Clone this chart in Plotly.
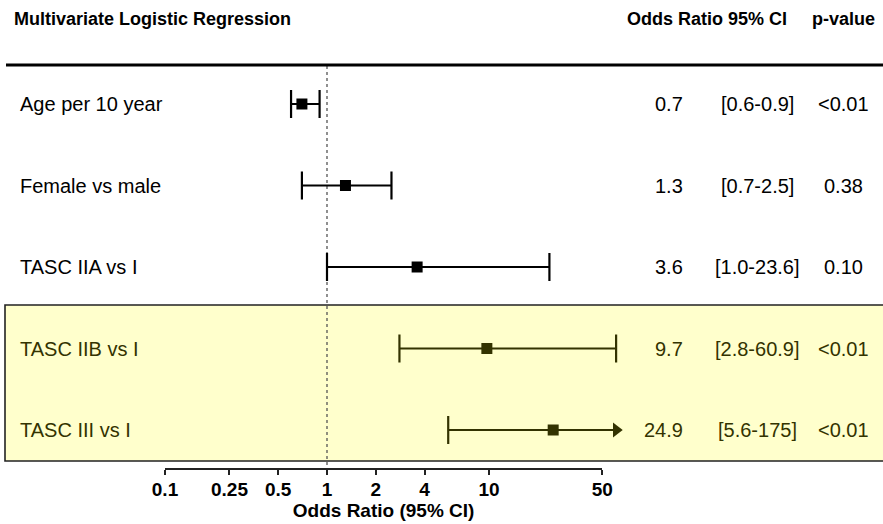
import math
import plotly.graph_objects as go

# ---------------- data ----------------
labels = ["Age per 10 year", "Female vs male", "TASC IIA vs I", "TASC IIB vs I", "TASC III vs I"]
odds_ratio = [0.7, 1.3, 3.6, 9.7, 24.9]
ci_low = [0.6, 0.7, 1.0, 2.8, 5.6]
ci_high = [0.9, 2.5, 23.6, 60.9, 175]
p_values = ["<0.01", "0.38", "0.10", "<0.01", "<0.01"]
highlighted = [False, False, False, True, True]
tick_vals = [0.1, 0.25, 0.5, 1, 2, 4, 10, 50]
tick_text = ["0.1", "0.25", "0.5", "1", "2", "4", "10", "50"]

# ---------------- style / geometry ----------------
W, H = 883, 524
FONT = "Liberation Sans Narrow, Arial Narrow, Liberation Sans, Arial, sans-serif"
BLACK = "#000000"
OLIVE = "#333300"
BOX_FILL = "#FFFFCC"
PX_ONE = 327.0        # pixel of OR = 1
PX_DECADE = 162.0     # pixels per decade
ROW0 = 104.0          # pixel of first row
ROW_STEP = 81.5       # pixels between rows
CLIP = 61.0           # visible maximum for CI whiskers (arrow beyond)
AX_MIN, AX_MAX = 0.1, 50
TXT = 20
HDR = 18


def py(p):  # pixel y -> row coordinate
    return (p - ROW0) / ROW_STEP


def fmt(v):
    return f"{v:.0f}" if v >= 100 else f"{v:.1f}"


fig = go.Figure()

# reference line at OR = 1
fig.add_trace(go.Scatter(x=[1, 1], y=[py(66), py(470)], mode="lines",
                         line=dict(color="#555555", width=1.3, dash="dot"),
                         hoverinfo="skip", showlegend=False))

annotations = []
for i, lab in enumerate(labels):
    c = OLIVE if highlighted[i] else BLACK
    hi = min(ci_high[i], CLIP)
    fig.add_trace(go.Scatter(x=[ci_low[i], hi], y=[i, i], mode="lines",
                             line=dict(color=c, width=2), hoverinfo="skip", showlegend=False))
    caps = [ci_low[i]] + ([ci_high[i]] if ci_high[i] <= CLIP else [])
    fig.add_trace(go.Scatter(x=caps, y=[i] * len(caps), mode="markers",
                             marker=dict(symbol="line-ns", size=20, line=dict(color=c, width=2.2)),
                             hoverinfo="skip", showlegend=False))
    if ci_high[i] > CLIP:
        fig.add_trace(go.Scatter(x=[CLIP], y=[i], mode="markers",
                                 marker=dict(symbol="triangle-right", size=13, color=c, line=dict(width=0)),
                                 hoverinfo="skip", showlegend=False))
    fig.add_trace(go.Scatter(x=[odds_ratio[i]], y=[i], mode="markers",
                             marker=dict(symbol="square", size=11, color=c, line=dict(width=0)),
                             hoverinfo="skip", showlegend=False))
    tf = dict(family=FONT, size=TXT, color=c)
    annotations += [
        dict(x=18 / W, y=i, xref="paper", yref="y", text=lab, showarrow=False,
             xanchor="left", yanchor="middle", font=tf),
        dict(x=685 / W, y=i, xref="paper", yref="y", text=fmt(odds_ratio[i]), showarrow=False,
             xanchor="right", yanchor="middle", font=tf),
        dict(x=757 / W, y=i, xref="paper", yref="y", text=f"[{fmt(ci_low[i])}-{fmt(ci_high[i])}]",
             showarrow=False, xanchor="center", yanchor="middle", font=tf),
        dict(x=843 / W, y=i, xref="paper", yref="y", text=p_values[i], showarrow=False,
             xanchor="center", yanchor="middle", font=tf),
    ]

hf = dict(family=FONT, size=HDR, color=BLACK)
annotations += [
    dict(x=12 / W, y=py(19), xref="paper", yref="y", text="<b>Multivariate Logistic Regression</b>",
         showarrow=False, xanchor="left", yanchor="middle", font=hf),
    dict(x=707 / W, y=py(19), xref="paper", yref="y", text="<b>Odds Ratio 95% CI</b>",
         showarrow=False, xanchor="center", yanchor="middle", font=hf),
    dict(x=843 / W, y=py(19), xref="paper", yref="y", text="<b>p-value</b>",
         showarrow=False, xanchor="center", yanchor="middle", font=hf),
]

# invisible trace binding the scale axis
fig.add_trace(go.Scatter(x=tick_vals, y=[-10] * len(tick_vals), xaxis="x2", yaxis="y",
                         mode="markers", marker=dict(opacity=0), hoverinfo="skip", showlegend=False))

shapes = [
    dict(type="rect", xref="paper", yref="y", x0=5 / W, x1=1.01, y0=py(305), y1=py(461),
         fillcolor=BOX_FILL, line=dict(color="#222222", width=1.6), layer="below"),
    dict(type="line", xref="paper", yref="y", x0=6 / W, x1=1.0, y0=py(65), y1=py(65),
         line=dict(color=BLACK, width=3)),
]

xr = [(0 - PX_ONE) / PX_DECADE, (W - PX_ONE) / PX_DECADE]
x2_lo = PX_ONE + math.log10(AX_MIN) * PX_DECADE
x2_hi = PX_ONE + math.log10(AX_MAX) * PX_DECADE

fig.update_layout(
    template="none",
    width=W, height=H, margin=dict(l=0, r=0, t=0, b=0, pad=0, autoexpand=False),
    paper_bgcolor="white", plot_bgcolor="rgba(0,0,0,0)",
    xaxis=dict(type="log", range=xr, domain=[0, 1], visible=False, fixedrange=True,
               automargin=False),
    xaxis2=dict(type="log", range=[math.log10(AX_MIN), math.log10(AX_MAX)],
                domain=[x2_lo / W, x2_hi / W], anchor="free", position=1 - 469 / H,
                tickvals=tick_vals, ticktext=tick_text, ticks="outside", ticklen=5,
                tickwidth=1.5, tickcolor="#222222", showline=True, linewidth=1.5,
                linecolor="#222222", showgrid=False, zeroline=False, automargin=False,
                ticklabelstandoff=-2,
                tickfont=dict(family=FONT, size=19, color=BLACK, weight="bold"),
                title=dict(text="<b>Odds Ratio (95% CI)</b>", standoff=0,
                           font=dict(family=FONT, size=19, color=BLACK))),
    yaxis=dict(range=[py(H), py(0)], visible=False, fixedrange=True, automargin=False),
    shapes=shapes, annotations=annotations,
)

fig.write_html("out.html")
